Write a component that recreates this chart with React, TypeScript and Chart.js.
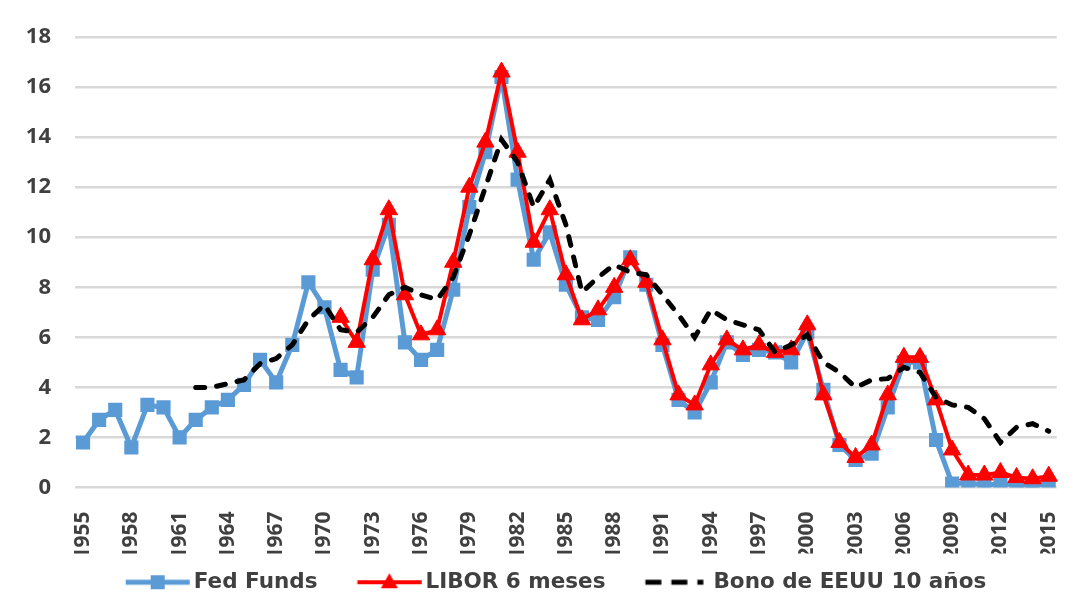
import React, { useEffect, useRef } from 'react';
import { Chart, registerables } from 'chart.js';

Chart.register(...registerables);

const years = [
  '1955', '1956', '1957', '1958', '1959', '1960', '1961', '1962', '1963', '1964',
  '1965', '1966', '1967', '1968', '1969', '1970', '1971', '1972', '1973', '1974',
  '1975', '1976', '1977', '1978', '1979', '1980', '1981', '1982', '1983', '1984',
  '1985', '1986', '1987', '1988', '1989', '1990', '1991', '1992', '1993', '1994',
  '1995', '1996', '1997', '1998', '1999', '2000', '2001', '2002', '2003', '2004',
  '2005', '2006', '2007', '2008', '2009', '2010', '2011', '2012', '2013', '2014',
  '2015',
];

const fedFunds = [
  1.8, 2.7, 3.1, 1.6, 3.3, 3.2, 2.0, 2.7, 3.2, 3.5,
  4.1, 5.1, 4.2, 5.7, 8.2, 7.2, 4.7, 4.4, 8.7, 10.5,
  5.8, 5.1, 5.5, 7.9, 11.2, 13.4, 16.4, 12.3, 9.1, 10.2,
  8.1, 6.8, 6.7, 7.6, 9.2, 8.1, 5.7, 3.5, 3.0, 4.2,
  5.8, 5.3, 5.5, 5.4, 5.0, 6.2, 3.9, 1.7, 1.1, 1.35,
  3.2, 5.0, 5.0, 1.9, 0.16, 0.18, 0.1, 0.14, 0.11, 0.09,
  0.13,
];

const libor6m = [
  null, null, null, null, null, null, null, null, null, null,
  null, null, null, null, null, null, 6.8, 5.8, 9.1, 11.1,
  7.7, 6.1, 6.3, 9.0, 12.0, 13.8, 16.6, 13.4, 9.8, 11.1,
  8.5, 6.7, 7.1, 8.0, 9.1, 8.2, 5.9, 3.7, 3.3, 4.9,
  5.9, 5.5, 5.7, 5.4, 5.5, 6.5, 3.7, 1.8, 1.2, 1.7,
  3.7, 5.2, 5.2, 3.5, 1.5, 0.5, 0.5, 0.6, 0.4, 0.35,
  0.45,
];

const bono10y = [
  null, null, null, null, null, null, null, 4.0, 4.0, 4.15,
  4.3, 4.95, 5.15, 5.7, 6.7, 7.3, 6.3, 6.2, 6.8, 7.7,
  8.0, 7.7, 7.5, 8.4, 10.1, 12.0, 13.9, 13.0, 11.2, 12.3,
  10.5, 7.8, 8.4, 8.9, 8.6, 8.5, 7.7, 6.9, 6.0, 7.1,
  6.7, 6.5, 6.3, 5.4, 5.7, 6.1, 5.0, 4.6, 4.0, 4.3,
  4.35, 4.8, 4.6, 3.6, 3.3, 3.2, 2.75, 1.8, 2.4, 2.55,
  2.25,
];

const seriesNames = ['Fed Funds', 'LIBOR 6 meses', 'Bono de EEUU 10 años'];

const FONT = "'Open Sans', 'Liberation Sans', sans-serif";
const LEG_FAMILY = "'DejaVu Sans', 'Open Sans', sans-serif";
const TEXT = '#404040';
const BLUE = '#5B9BD5';
const RED = '#FF0000';
const BLACK = '#000000';

// legend marker geometry
const LEG_FONT = 21.5;
const LEG_PAD = 18;
const LEG_E = 22;
const LEG_L = 64;
const LEG_G = 4;
const LEG_B = LEG_E + LEG_L + LEG_G - LEG_FONT / 2;

function legendImage(kind: number): HTMLCanvasElement {
  const H = Math.max(Math.abs(LEG_E - LEG_B / 2), Math.abs(LEG_E + LEG_L - LEG_B / 2));
  const c = document.createElement('canvas');
  c.width = Math.ceil(2 * H);
  c.height = 24;
  const ctx = c.getContext('2d') as CanvasRenderingContext2D;
  const x0 = H + LEG_E - LEG_B / 2;
  const x1 = x0 + LEG_L;
  const y = 12;
  const mid = (x0 + x1) / 2;
  if (kind === 0) {
    ctx.strokeStyle = BLUE;
    ctx.lineWidth = 5;
    ctx.beginPath();
    ctx.moveTo(x0, y);
    ctx.lineTo(x1, y);
    ctx.stroke();
    ctx.fillStyle = BLUE;
    ctx.fillRect(mid - 7, y - 7, 14, 14);
  } else if (kind === 1) {
    ctx.strokeStyle = RED;
    ctx.lineWidth = 4;
    ctx.beginPath();
    ctx.moveTo(x0, y);
    ctx.lineTo(x1, y);
    ctx.stroke();
    ctx.fillStyle = RED;
    ctx.beginPath();
    ctx.moveTo(mid, y - 9);
    ctx.lineTo(mid + 8.5, y + 6);
    ctx.lineTo(mid - 8.5, y + 6);
    ctx.closePath();
    ctx.fill();
  } else {
    ctx.fillStyle = BLACK;
    ctx.fillRect(x0, y - 2.5, 16, 5);
    ctx.fillRect(x0 + 26, y - 2.5, 16, 5);
    ctx.fillRect(x0 + 52, y - 2.5, 6, 5);
  }
  return c;
}

export default function App() {
  const canvasRef = useRef<HTMLCanvasElement | null>(null);

  useEffect(() => {
    if (!canvasRef.current) return;
    const images = [legendImage(0), legendImage(1), legendImage(2)];
    const chart = new Chart(canvasRef.current, {
      type: 'line',
      data: {
        labels: years,
        datasets: [
          {
            label: seriesNames[0],
            data: fedFunds,
            borderColor: BLUE,
            backgroundColor: BLUE,
            borderWidth: 5,
            pointStyle: 'rect',
            pointRadius: 10,
            pointBackgroundColor: BLUE,
            pointBorderColor: BLUE,
            pointBorderWidth: 0,
            tension: 0,
            order: 3,
          },
          {
            label: seriesNames[1],
            data: libor6m,
            borderColor: RED,
            backgroundColor: RED,
            borderWidth: 4,
            pointStyle: 'triangle',
            pointRadius: 10,
            pointBackgroundColor: RED,
            pointBorderColor: RED,
            pointBorderWidth: 1,
            tension: 0,
            order: 2,
          },
          {
            label: seriesNames[2],
            data: bono10y,
            borderColor: BLACK,
            backgroundColor: BLACK,
            borderWidth: 5,
            borderDash: [9, 12],
            borderCapStyle: 'round',
            pointRadius: 0,
            tension: 0,
            order: 1,
          },
        ],
      },
      options: {
        animation: false,
        responsive: false,
        events: [],
        layout: { padding: { top: 29, right: 8, left: 0, bottom: 0 } },
        scales: {
          x: {
            type: 'category',
            offset: true,
            grid: { display: false },
            border: { display: false },
            ticks: {
              autoSkip: false,
              minRotation: 90,
              maxRotation: 90,
              padding: 16,
              color: TEXT,
              font: { family: FONT, size: 21, weight: 'bold' },
              callback: (_v: any, i: number) => (i % 3 === 0 ? years[i] : null),
            },
            afterFit: (s: any) => {
              s.height = 66;
            },
          },
          y: {
            min: 0,
            max: 18,
            grid: { color: '#d9d9d9', lineWidth: 2.5, drawTicks: false },
            border: { display: false },
            ticks: {
              stepSize: 2,
              padding: 24,
              color: TEXT,
              font: { family: FONT, size: 22, weight: 'bold' },
            },
            afterFit: (s: any) => {
              s.width = 67;
              s.paddingTop = 0;
              s.paddingBottom = 0;
            },
          },
        },
        plugins: {
          tooltip: { enabled: false },
          legend: {
            position: 'bottom',
            labels: {
              usePointStyle: true,
              pointStyleWidth: LEG_B,
              padding: LEG_PAD,
              color: TEXT,
              font: { family: LEG_FAMILY, size: LEG_FONT, weight: 'bold' },
              generateLabels: (c: any) =>
                c.data.datasets.map((ds: any, i: number) => ({
                  text: ds.label,
                  pointStyle: images[i],
                  datasetIndex: i,
                  hidden: false,
                  lineWidth: 0,
                  fillStyle: 'rgba(0,0,0,0)',
                  strokeStyle: 'rgba(0,0,0,0)',
                  fontColor: TEXT,
                })),
            },
          },
        },
      } as any,
    });
    return () => chart.destroy();
  }, []);

  return (
    <div style={{ position: 'relative', width: 1082, height: 595 }}>
      <div
        style={{
          position: 'absolute',
          left: -2,
          top: -8,
          width: 1,
          height: 611,
          background: '#e3e3e3',
        }}
      />
      <canvas ref={canvasRef} width={1082} height={595} style={{ display: 'block' }} />
    </div>
  );
}
